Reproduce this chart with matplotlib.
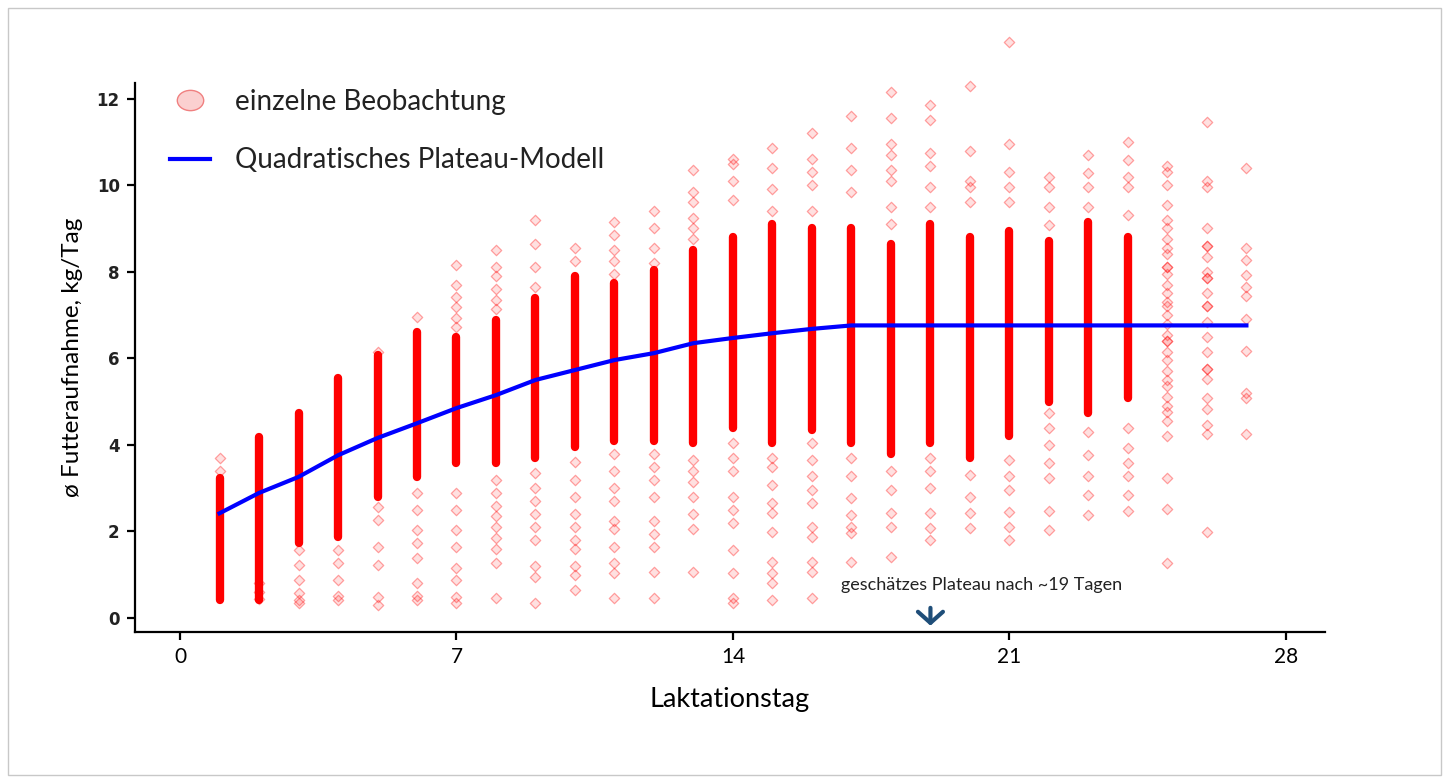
import matplotlib
matplotlib.use('Agg')
import matplotlib.pyplot as plt
from matplotlib.lines import Line2D
from matplotlib.patches import Rectangle
from matplotlib.path import Path
from matplotlib.transforms import Affine2D

# Laktationstage
TAGE = list(range(1, 28))

# dichter Bereich je Tag (unten, oben), None = kein geschlossener Balken
DICHT_UNTEN = [0.42, 0.42, 1.73, 1.87, 2.8, 3.26, 3.58, 3.58, 3.7, 3.95, 4.1, 4.1, 4.05, 4.4,
               4.05, 4.35, 4.05, 3.8, 4.05, 3.7, 4.2, 4.99, 4.73, 5.08, None, None, None]
DICHT_OBEN = [3.23, 4.18, 4.73, 5.54, 6.07, 6.6, 6.49, 6.88, 7.4, 7.9, 7.75, 8.05, 8.5, 8.8,
              9.1, 9.0, 9.0, 8.65, 9.1, 8.8, 8.95, 8.7, 9.15, 8.8, None, None, None]

# einzelne Beobachtungen ausserhalb des dichten Bereichs
EINZELN = [
    [3.4, 3.7],
    [0.45, 0.6, 0.8],
    [1.57, 1.22, 0.88, 0.58, 0.42, 0.35],
    [1.57, 1.27, 0.88, 0.42, 0.5],
    [2.56, 2.26, 1.64, 1.22, 0.49, 0.3, 6.15],
    [6.95, 2.89, 2.5, 2.03, 1.73, 1.38, 0.81, 0.42, 0.5],
    [8.15, 7.7, 7.41, 7.18, 6.93, 6.72, 2.89, 2.5, 2.03, 1.64, 1.15, 0.88, 0.49, 0.35],
    [8.5, 8.1, 7.9, 7.6, 7.35, 7.15, 3.2, 2.9, 2.6, 2.35, 2.1, 1.85, 1.6, 1.27, 0.46],
    [9.2, 8.65, 8.1, 7.65, 3.35, 3.0, 2.7, 2.4, 2.1, 1.8, 1.2, 0.95, 0.35],
    [8.55, 8.25, 3.6, 3.2, 2.8, 2.4, 2.1, 1.8, 1.6, 1.2, 1.0, 0.65],
    [9.15, 8.85, 8.5, 8.25, 7.95, 3.8, 3.4, 3.0, 2.7, 2.25, 2.05, 1.65, 1.27, 1.04, 0.46],
    [9.4, 9.0, 8.55, 8.2, 3.8, 3.5, 3.2, 2.8, 2.25, 1.95, 1.65, 1.06, 0.46],
    [10.35, 9.85, 9.6, 9.25, 9.0, 8.75, 3.65, 3.4, 3.15, 2.8, 2.4, 2.05, 1.06],
    [10.6, 10.5, 10.1, 9.65, 4.05, 3.7, 3.4, 2.8, 2.5, 2.2, 1.57, 1.04, 0.46, 0.35],
    [10.85, 10.4, 9.9, 9.4, 3.7, 3.5, 3.07, 2.65, 2.42, 1.98, 1.3, 1.04, 0.8, 0.42],
    [11.2, 10.6, 10.3, 10.0, 9.4, 4.05, 3.65, 3.27, 2.95, 2.65, 2.1, 1.88, 1.3, 1.07, 0.46],
    [11.6, 10.85, 10.35, 9.85, 3.7, 3.27, 2.77, 2.38, 2.1, 1.96, 1.3],
    [12.15, 11.55, 10.95, 10.7, 10.35, 10.1, 9.5, 9.1, 3.4, 2.95, 2.42, 2.1, 1.4],
    [11.85, 11.5, 10.75, 10.45, 9.95, 9.5, 3.7, 3.4, 3.0, 2.42, 2.07, 1.8],
    [12.3, 10.8, 10.1, 9.95, 9.6, 3.3, 2.8, 2.42, 2.07],
    [13.3, 10.95, 10.3, 9.95, 9.6, 3.65, 3.27, 2.95, 2.45, 2.1, 1.8],
    [10.2, 9.95, 9.5, 9.07, 4.73, 4.4, 4.0, 3.58, 3.23, 2.47, 2.03],
    [10.7, 10.27, 9.95, 9.5, 4.3, 3.77, 3.28, 2.84, 2.38],
    [11.0, 10.57, 10.2, 9.95, 9.3, 4.4, 3.93, 3.58, 3.28, 2.84, 2.47],
    [10.45, 10.3, 10.0, 9.55, 9.2, 9.0, 8.75, 8.55, 8.4, 8.1, 8.1, 7.95, 7.7, 7.5, 7.3, 7.2,
     7.0, 6.8, 6.55, 6.4, 6.4, 6.15, 5.95, 5.7, 5.5, 5.35, 5.1, 4.9, 4.75, 4.55, 4.2, 3.23,
     2.52, 1.27],
    [11.45, 10.1, 9.95, 9.0, 8.6, 8.6, 8.35, 8.0, 7.85, 7.85, 7.5, 7.2, 7.2, 6.85, 6.5, 6.15,
     5.75, 5.75, 5.52, 5.08, 4.83, 4.46, 4.25, 1.98],
    [10.4, 8.55, 8.28, 7.92, 7.65, 7.44, 6.9, 6.18, 5.2, 5.08, 4.25],
]

# Quadratisches Plateau-Modell
MODELL = [2.42, 2.89, 3.26, 3.76, 4.16, 4.5, 4.85, 5.15, 5.5, 5.73, 5.96, 6.12, 6.35, 6.47,
          6.58, 6.68, 6.76, 6.76, 6.76, 6.76, 6.76, 6.76, 6.76, 6.76, 6.76, 6.76, 6.76]

Y_TICKS = [0, 2, 4, 6, 8, 10, 12]
X_TICKS = [0, 7, 14, 21, 28]

fig = plt.figure(figsize=(14.5, 7.83), dpi=100)
ax = fig.add_axes([0.0931, 0.1928, 0.8207, 0.7012])

# dichte Bereiche als geschlossene Balken
xs, lo, hi = [], [], []
for t, u, o in zip(TAGE, DICHT_UNTEN, DICHT_OBEN):
    if u is not None:
        xs.append(t); lo.append(u); hi.append(o)
bars = ax.vlines(xs, lo, hi, colors='#ff0000', linewidth=6, zorder=2)
bars.set_capstyle('round')

# einzelne Punkte
px, py = [], []
for t, werte in zip(TAGE, EINZELN):
    px += [t] * len(werte)
    py += werte
ax.scatter(px, py, marker='D', s=28, facecolor=(1, 0, 0, 0.12),
           edgecolor=(1, 0, 0, 0.35), linewidth=0.9, zorder=3, clip_on=False)

ax.plot(TAGE, MODELL, color='#0000ff', linewidth=3, zorder=4)

ax.set_xlim(-1.14, 28.99)
ax.set_ylim(-0.323, 12.36)
ax.set_xticks(X_TICKS)
ax.set_yticks(Y_TICKS)
ax.set_xticklabels([str(v) for v in X_TICKS], fontfamily='Lato', fontsize=15)
ax.set_yticklabels([str(v) for v in Y_TICKS], fontfamily='DejaVu Sans',
                   fontsize=12, fontweight='bold', color='#222222')
for s in ['top', 'right']:
    ax.spines[s].set_visible(False)
for s in ['left', 'bottom']:
    ax.spines[s].set_linewidth(1.6)
ax.tick_params(direction='out', length=6, width=1.6, pad=5)

ax.set_xlabel('Laktationstag', fontfamily='Lato', fontsize=19.5, labelpad=14)
ax.set_ylabel('ø Futteraufnahme, kg/Tag', fontfamily='Lato', fontsize=17.5, labelpad=10)

# Hinweis auf das Plateau
ax.annotate('', xy=(19, -0.24), xytext=(19, 0.3),
            arrowprops=dict(arrowstyle='->,head_width=0.45,head_length=0.4',
                            color='#1f4e79', lw=3, mutation_scale=20))
ax.text(20.3, 0.76, 'geschätzes Plateau nach ~19 Tagen', fontfamily='Lato', fontsize=13,
        ha='center', va='center', color='#222222')

# Legende
ellipse = Path.unit_circle().transformed(Affine2D().scale(1.3, 1.0))
handles = [
    Line2D([], [], linestyle='none', marker=ellipse, markersize=19,
           markerfacecolor='#fbd0d0', markeredgecolor='#f08080', markeredgewidth=1),
    Line2D([], [], color='#0000ff', linewidth=3),
]
ax.legend(handles, ['einzelne Beobachtung', 'Quadratisches Plateau-Modell'],
          loc='upper left', bbox_to_anchor=(0.020, 1.009), borderaxespad=0, frameon=False,
          prop={'family': 'Lato', 'size': 20}, handlelength=1.44, handletextpad=0.9,
          labelspacing=1.16, labelcolor='#222222')

# Rahmen um die Grafik
fig.patches.append(Rectangle((0.0055, 0.0102), 0.988, 0.9796, transform=fig.transFigure,
                             fill=False, edgecolor='#c8c8c8', linewidth=1))

plt.savefig('out.png', dpi=100)
